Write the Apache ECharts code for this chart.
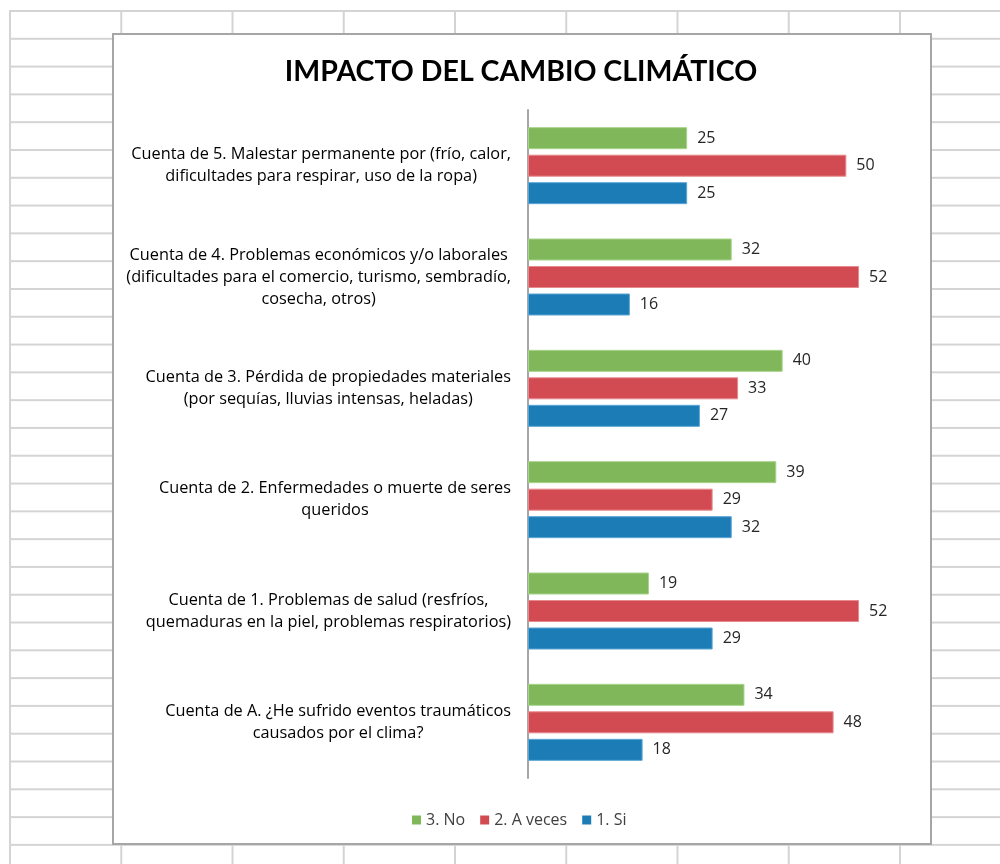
<!DOCTYPE html>
<html>
<head>
<meta charset="utf-8">
<script src="https://cdn.jsdelivr.net/npm/echarts@6/dist/echarts.min.js"></script>
<style>
  html, body { margin: 0; padding: 0; background: #fff; }
  #sheet {
    position: absolute; left: 9px; top: 10px; width: 991px; height: 854px;
    background-image:
      linear-gradient(to right, #d4d4d4 2px, transparent 2px),
      linear-gradient(to bottom, #d4d4d4 2px, transparent 2px);
    background-size: 111.25px 27.8px;
  }
  #frame {
    position: absolute; left: 112px; top: 33px; width: 816px; height: 808px;
    background: #fff; border: 2px solid #a6a6a6;
  }
  #main { position: absolute; left: 0; top: 0; width: 1000px; height: 864px; }
</style>
</head>
<body>
<div id="sheet"></div>
<div id="frame"></div>
<div id="main"></div>
<script>
// categories, bottom to top (same as the value axis order)
const categories = [
  'Cuenta de A. ¿He sufrido eventos traumáticos\ncausados por el clima?',
  'Cuenta de 1. Problemas de salud (resfríos,\nquemaduras en la piel, problemas respiratorios)',
  'Cuenta de 2. Enfermedades o muerte de seres\nqueridos',
  'Cuenta de 3. Pérdida de propiedades materiales\n(por sequías, lluvias intensas, heladas)',
  'Cuenta de 4. Problemas económicos y/o laborales\n(dificultades para el comercio, turismo, sembradío,\ncosecha, otros)',
  'Cuenta de 5. Malestar permanente por (frío, calor,\ndificultades para respirar, uso de la ropa)'
]
const seriesNames = ['3. No', '2. A veces', '1. Si']
const noValues = [34, 19, 39, 40, 32, 25]
const aVecesValues = [48, 52, 29, 33, 52, 50]
const siValues = [18, 29, 32, 27, 16, 25]

const font = '"Open Sans", "Noto Sans", sans-serif'
const titleFont = 'Lato, sans-serif'
const colors = ['#7fb75a', '#d34b52', '#1c7cb5']
const borders = ['#a8d48a', '#e78a8f', '#5aa6d6']
const valueSets = [noValues, aVecesValues, siValues]

var myChart = echarts.init(document.getElementById('main'))
var option = {
  animation: false,
  textStyle: { fontFamily: font },
  title: {
    text: 'IMPACTO DEL CAMBIO CLIMÁTICO',
    left: 516,
    textAlign: 'center',
    top: 52,
    textStyle: { fontFamily: titleFont, fontSize: 28.5, fontWeight: 'bold', color: '#000' }
  },
  legend: {
    data: seriesNames,
    left: 407,
    top: 807,
    icon: 'rect',
    itemWidth: 9,
    itemHeight: 9,
    itemGap: 15,
    itemStyle: { borderWidth: 0 },
    textStyle: { fontFamily: font, fontSize: 16, color: '#404040' }
  },
  grid: {
    left: 528,
    right: 90,
    top: 110,
    bottom: 86,
    containLabel: false
  },
  xAxis: {
    type: 'value',
    min: 0,
    max: 60,
    show: false
  },
  yAxis: {
    type: 'category',
    data: categories,
    axisLine: { show: true, lineStyle: { color: '#a6a6a6', width: 2 } },
    axisTick: { show: false },
    axisLabel: {
      margin: 17,
      formatter: function (value) {
        return value.split('\n').map(function (l) { return '{c|' + l + '}' }).join('\n')
      },
      rich: {
        c: { align: 'center', fontFamily: font, fontSize: 16.3, lineHeight: 22, color: '#000' }
      }
    }
  },
  series: seriesNames.map(function (name, i) {
    return {
      name: name,
      type: 'bar',
      data: valueSets[i],
      barWidth: 22,
      barGap: '25%',
      itemStyle: { color: colors[i], borderColor: borders[i], borderWidth: 1 },
      label: {
        show: true,
        position: 'right',
        distance: 10,
        fontFamily: font,
        fontSize: 16,
        color: '#262626'
      }
    }
  })
}
myChart.setOption(option)
</script>
</body>
</html>
